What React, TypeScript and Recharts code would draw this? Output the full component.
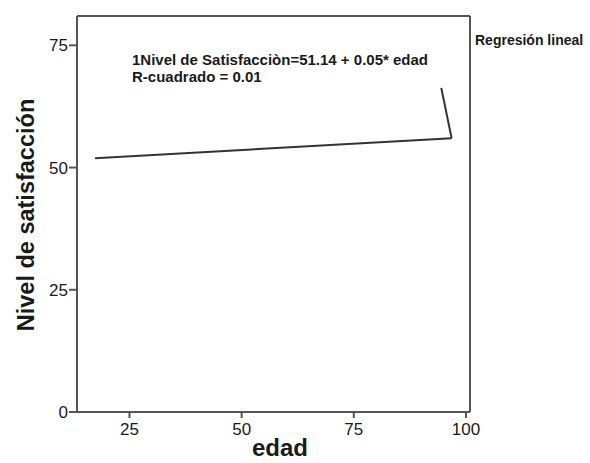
import { LineChart, Line, XAxis, YAxis, ReferenceLine } from 'recharts'

// fitted line, read at both ends
const fitEdad = [17.3, 96.8]
const fitSatisfaccion = [51.9, 56.0]

// short leader stroke from the label down to the end of the line
const leaderEdad = [94.5, 96.8]
const leaderSatisfaccion = [66.3, 56.0]

const xTicks = [25, 50, 75, 100]
const yTicks = [0, 25, 50, 75]
const xDomain = [13.3, 100.9]
const yDomain = [0, 81]

const ecuacion = '1Nivel de Satisfacciòn=51.14 + 0.05* edad'
const rCuadrado = 'R-cuadrado = 0.01'

const fitData = fitEdad.map((edad, i) => ({ edad, valor: fitSatisfaccion[i] }))
const leaderData = leaderEdad.map((edad, i) => ({ edad, valor: leaderSatisfaccion[i] }))

const axisColor = '#555'
const textColor = '#1a1a1a'
const font = '"Liberation Sans", Arial, sans-serif'

export default function App() {
  return (
    <div style={{ position: 'absolute', left: 0, top: 0, width: 590, height: 463, background: '#fff' }}>
      <LineChart
        width={590}
        height={463}
        margin={{ top: 16, right: 120, bottom: 21, left: 0 }}
      >
        <XAxis
          type="number"
          dataKey="edad"
          domain={xDomain}
          ticks={xTicks}
          allowDataOverflow
          height={30}
          stroke={axisColor}
          strokeWidth={2}
          tickSize={6}
          tickMargin={5}
          tick={{ fill: textColor, fontSize: 17, fontFamily: font }}
        />
        <YAxis
          type="number"
          dataKey="valor"
          domain={yDomain}
          ticks={yTicks}
          allowDataOverflow
          width={77}
          stroke={axisColor}
          strokeWidth={2}
          tickSize={8}
          tickMargin={1}
          tick={{ fill: textColor, fontSize: 17, fontFamily: font }}
        />
        <ReferenceLine y={yDomain[1]} stroke={axisColor} strokeWidth={2} />
        <ReferenceLine x={xDomain[1]} stroke={axisColor} strokeWidth={2} />
        <Line
          data={fitData}
          dataKey="valor"
          type="linear"
          stroke="#333"
          strokeWidth={2}
          dot={false}
          isAnimationActive={false}
        />
        <Line
          data={leaderData}
          dataKey="valor"
          type="linear"
          stroke="#333"
          strokeWidth={2}
          dot={false}
          isAnimationActive={false}
        />
      </LineChart>
      <svg
        width={590}
        height={463}
        style={{ position: 'absolute', left: 0, top: 0, pointerEvents: 'none' }}
      >
        <g fontFamily={font} fontWeight="bold" fill={textColor}>
          <text x={132} y={65} fontSize={15}>{ecuacion}</text>
          <text x={132} y={82} fontSize={15}>{rCuadrado}</text>
          <text x={475} y={45} fontSize={14}>Regresión lineal</text>
          <text x={280} y={456} fontSize={24} textAnchor="middle">edad</text>
          <text transform="translate(34,215) rotate(-90)" fontSize={23.5} textAnchor="middle">
            Nivel de satisfacción
          </text>
        </g>
      </svg>
    </div>
  )
}
